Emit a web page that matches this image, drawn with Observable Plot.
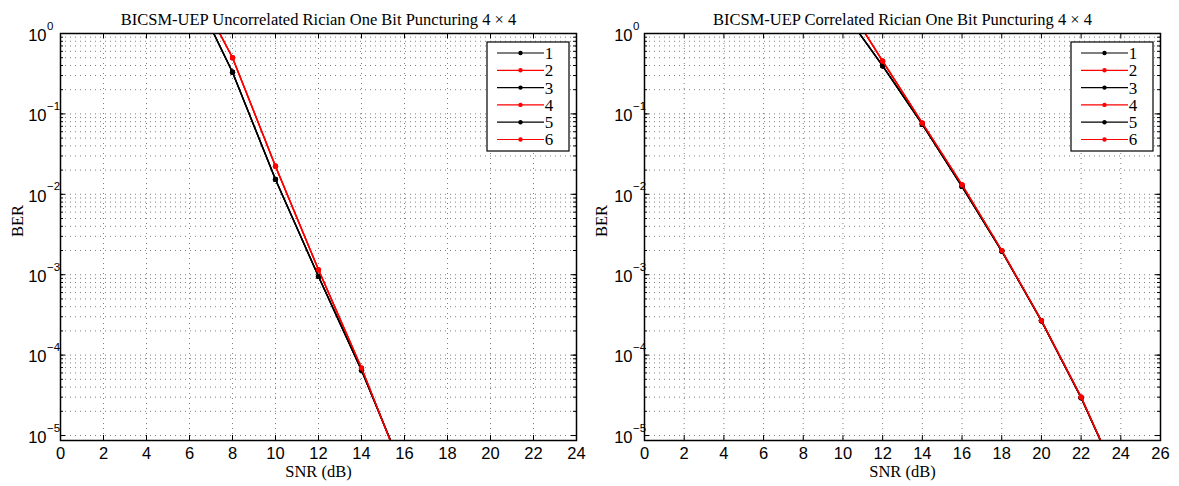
<!DOCTYPE html>
<html>
<head>
<meta charset="utf-8">
<script src="https://cdn.jsdelivr.net/npm/d3@7"></script>
<script src="https://cdn.jsdelivr.net/npm/@observablehq/plot@0.6"></script>
<style>
  body { margin: 0; background: #fff; }
  #chart { display: flex; width: 1179px; height: 486px; }
  #chart svg { display: block; }
</style>
</head>
<body>
<div id="chart"></div>
<script>
// ---- data ----
const seriesNames = ["1", "2", "3", "4", "5", "6"];
const seriesColors = ["black", "red", "black", "red", "black", "red"];

const leftTitle = "BICSM-UEP Uncorrelated Rician One Bit Puncturing 4 × 4";
const leftSnr = [6, 8, 10, 12, 14, 16];
const leftBerBlack = [4.2, 0.33, 0.0153, 9.5e-4, 6.5e-5, 3.3e-6];
const leftBerRed = [5.2, 0.5, 0.0224, 1.15e-3, 6.9e-5, 3.1e-6];
const leftXTicks = [0, 2, 4, 6, 8, 10, 12, 14, 16, 18, 20, 22, 24];

const rightTitle = "BICSM-UEP Correlated Rician One Bit Puncturing 4 × 4";
const rightSnr = [10, 12, 14, 16, 18, 20, 22, 24];
const rightBerBlack = [1.93, 0.396, 0.074, 0.0125, 1.97e-3, 2.67e-4, 2.95e-5, 2.4e-6];
const rightBerRed = [2.75, 0.453, 0.0766, 0.0131, 2.0e-3, 2.69e-4, 3.0e-5, 2.4e-6];
const rightXTicks = [0, 2, 4, 6, 8, 10, 12, 14, 16, 18, 20, 22, 24, 26];

const yDecades = [0, -1, -2, -3, -4, -5];
const yMin = 8.67e-6;
const xLabel = "SNR (dB)";
const yLabel = "BER";

// ---- drawing ----
const SANS = "Liberation Sans, Arial, sans-serif";
const SERIF = "Liberation Serif, Times New Roman, serif";

function panel({title, snr, black, red, xTicks, width, marginLeft, marginRight, baseDx}) {
  const height = 486, marginTop = 33, marginBottom = 46;
  const innerW = width - marginLeft - marginRight;
  const innerH = height - marginTop - marginBottom;
  const xMax = xTicks[xTicks.length - 1];

  const minorTicks = [];
  for (let k = -6; k <= 0; k++) for (let m = 1; m <= 9; m++) {
    const v = m * 10 ** k;
    if (v >= 1e-5 && v <= 1) minorTicks.push(v);
  }
  const majorTicks = yDecades.map(d => 10 ** d);

  const seriesMarks = seriesNames.flatMap((name, i) => {
    const vals = seriesColors[i] === "black" ? black : red;
    const rows = snr.map((x, j) => ({snr: x, ber: vals[j]}));
    return [
      Plot.line(rows, {x: "snr", y: "ber", stroke: seriesColors[i], strokeWidth: 1.4, clip: true}),
      Plot.dot(rows, {x: "snr", y: "ber", fill: seriesColors[i], r: 2.6, stroke: "none", clip: true})
    ];
  });

  const gridStyle = {stroke: "#000", strokeOpacity: 0.5, strokeWidth: 1, strokeDasharray: "1,4"};

  const chart = Plot.plot({
    width, height, marginTop, marginBottom, marginLeft, marginRight,
    style: {background: "white", overflow: "visible", fontSize: "16.5px", fontFamily: SANS, color: "black"},
    x: {domain: [0, xMax]},
    y: {type: "log", domain: [yMin, 1], axis: null},
    marks: [
      Plot.gridX(xTicks.filter(t => t > 0 && t < xMax), {...gridStyle}),
      Plot.gridY(minorTicks.filter(t => t < 1), {...gridStyle}),
      // inside ticks
      Plot.tickX(xTicks, {x: d => d, insetTop: innerH - 5, stroke: "black"}),
      Plot.tickX(xTicks, {x: d => d, insetBottom: innerH - 5, stroke: "black"}),
      Plot.tickY(majorTicks, {y: d => d, insetRight: innerW - 5, stroke: "black"}),
      Plot.tickY(majorTicks, {y: d => d, insetLeft: innerW - 5, stroke: "black"}),
      Plot.tickY(minorTicks, {y: d => d, insetRight: innerW - 3, stroke: "black"}),
      Plot.tickY(minorTicks, {y: d => d, insetLeft: innerW - 3, stroke: "black"}),
      ...seriesMarks,
      Plot.frame({stroke: "black", strokeWidth: 1.5}),
      Plot.axisX(xTicks, {tickSize: 0, tickPadding: 7, label: null, fill: "black"}),
      // y tick labels: base and exponent
      Plot.text(yDecades, {y: d => 10 ** d, text: () => "10", frameAnchor: "left", textAnchor: "end",
        dx: baseDx, dy: 2, fontSize: 16.5, fontFamily: SANS, fill: "black"}),
      Plot.text(yDecades, {y: d => 10 ** d, text: d => d === 0 ? "0" : "−" + (-d), frameAnchor: "left", textAnchor: "start",
        dx: baseDx + 0.5, dy: -7.5, fontSize: 11.5, fontFamily: SANS, fill: "black"}),
      Plot.text([title], {text: d => d, frameAnchor: "top", dy: -20, fontSize: 16.5, fontFamily: SERIF, fill: "black"}),
      Plot.text([xLabel], {text: d => d, frameAnchor: "bottom", dy: 36, fontSize: 16.5, fontFamily: SERIF, fill: "black"}),
      Plot.text([yLabel], {text: d => d, frameAnchor: "left", rotate: -90, dx: -43, fontSize: 16.5, fontFamily: SERIF, fill: "black"})
    ]
  });

  const svg = d3.select(chart);
  // make sure font sizes given to marks win over any stylesheet default
  svg.selectAll("g[font-size]").each(function () {
    const fs = this.getAttribute("font-size");
    this.style.fontSize = /px$/.test(fs) ? fs : fs + "px";
  });
  svg.selectAll('g[aria-label="x-axis tick label"]').style("font-size", "16.5px").style("font-family", SANS);

  // legend (box in upper right of frame)
  const bw = 82, bh = 109;
  const lx = width - marginRight - 7 - bw, ly = marginTop + 9;
  const g = svg.append("g").attr("class", "legend");
  g.append("rect").attr("x", lx).attr("y", ly).attr("width", bw).attr("height", bh)
    .attr("fill", "white").attr("stroke", "black").attr("stroke-width", 1.2);
  seriesNames.forEach((name, i) => {
    const yy = ly + 11 + i * 17.3;
    g.append("line").attr("x1", lx + 10).attr("x2", lx + 57).attr("y1", yy).attr("y2", yy)
      .attr("stroke", seriesColors[i]).attr("stroke-width", 1.2);
    g.append("circle").attr("cx", lx + 33.5).attr("cy", yy).attr("r", 2.2).attr("fill", seriesColors[i]);
    g.append("text").attr("x", lx + 62).attr("y", yy).attr("dy", "0.35em")
      .style("font-family", SERIF).style("font-size", "17px").attr("fill", "black").text(name);
  });
  return chart;
}

const root = document.getElementById("chart");
root.appendChild(panel({title: leftTitle, snr: leftSnr, black: leftBerBlack, red: leftBerRed,
  xTicks: leftXTicks, width: 590, marginLeft: 60, marginRight: 14, baseDx: -14}));
root.appendChild(panel({title: rightTitle, snr: rightSnr, black: rightBerBlack, red: rightBerRed,
  xTicks: rightXTicks, width: 589, marginLeft: 54, marginRight: 19, baseDx: -12}));
</script>
</body>
</html>
